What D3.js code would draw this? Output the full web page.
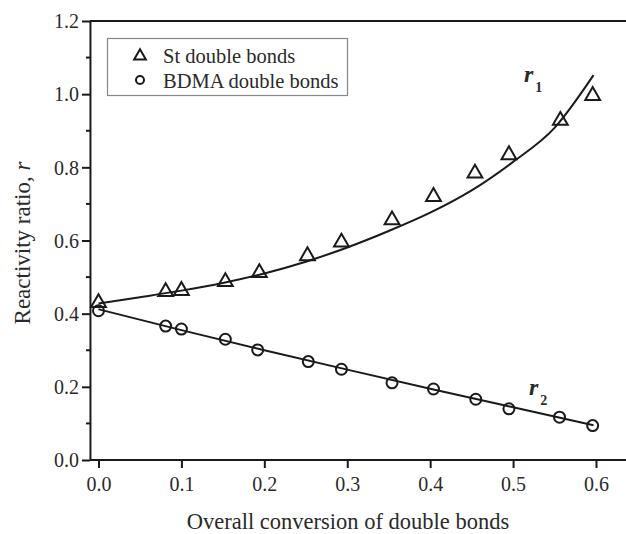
<!DOCTYPE html>
<html>
<head>
<meta charset="utf-8">
<script src="https://cdn.jsdelivr.net/npm/d3@7/dist/d3.min.js"></script>
<style>
  html, body { margin: 0; padding: 0; background: #fff; }
  svg { display: block; }
  text { font-family: "Liberation Serif", "Times New Roman", serif; fill: #2a2a2a; }
</style>
</head>
<body>
<svg id="chart" width="626" height="534"></svg>
<script>
// Measured reactivity ratios vs. overall conversion
const stConversion = [0.0, 0.081, 0.100, 0.153, 0.194, 0.252, 0.293, 0.354, 0.404, 0.454, 0.495, 0.557, 0.596];
const stRatio      = [0.430, 0.460, 0.463, 0.487, 0.512, 0.558, 0.595, 0.656, 0.720, 0.784, 0.834, 0.928, 0.996];

const bdmaConversion = [0.0, 0.081, 0.100, 0.153, 0.192, 0.253, 0.293, 0.354, 0.404, 0.455, 0.495, 0.556, 0.596];
const bdmaRatio      = [0.408, 0.366, 0.358, 0.330, 0.301, 0.269, 0.248, 0.211, 0.194, 0.166, 0.140, 0.117, 0.094];

// Model curves r1 and r2
const r1CurveX = [0.0, 0.05, 0.10, 0.15, 0.20, 0.25, 0.30, 0.35, 0.40, 0.45, 0.50, 0.55, 0.597];
const r1CurveY = [0.428, 0.445, 0.463, 0.484, 0.510, 0.542, 0.581, 0.626, 0.676, 0.737, 0.815, 0.908, 1.052];

const r2CurveX = [0.0, 0.10, 0.20, 0.30, 0.40, 0.50, 0.597];
const r2CurveY = [0.412, 0.355, 0.300, 0.247, 0.195, 0.144, 0.095];

const xTicks = [0.0, 0.1, 0.2, 0.3, 0.4, 0.5, 0.6];
const yTicks = [0.0, 0.2, 0.4, 0.6, 0.8, 1.0, 1.2];
const yMinorTicks = [0.1, 0.3, 0.5, 0.7, 0.9, 1.1];

const legendLabels = ["St double bonds", "BDMA double bonds"];

const ink = "#1a1a1a";
const svg = d3.select("#chart");

const x = d3.scaleLinear().domain([0, 0.6]).range([98.5, 596]);
const y = d3.scaleLinear().domain([0, 1.2]).range([460, 21]);

const frameLeft = x(-0.0103);
const frameRight = 630;

// Top edge of the plot frame
svg.append("line").attr("x1", frameLeft).attr("x2", frameRight)
  .attr("y1", y(1.2)).attr("y2", y(1.2)).attr("stroke", ink).attr("stroke-width", 2);

// Y axis
const yAxis = svg.append("g").attr("transform", `translate(${frameLeft},0)`)
  .call(d3.axisLeft(y).tickValues(yTicks).tickSize(8).tickSizeOuter(0)
    .tickFormat(d3.format(".1f")));
yAxis.select(".domain").attr("stroke", ink).attr("stroke-width", 2);
yAxis.selectAll(".tick line").attr("stroke", ink).attr("stroke-width", 2);
yAxis.selectAll(".tick text").attr("x", -11).attr("dy", "0.34em")
  .style("font-size", "20px").style("font-family", "Liberation Serif, serif").attr("fill", "#3a3a3a");
yAxis.selectAll(".minor").data(yMinorTicks).enter().append("line")
  .attr("class", "minor").attr("x1", -4).attr("x2", 0)
  .attr("y1", d => y(d)).attr("y2", d => y(d)).attr("stroke", ink).attr("stroke-width", 2);

// X axis
const xAxis = svg.append("g").attr("transform", `translate(0,${y(0)})`)
  .call(d3.axisBottom(x).tickValues(xTicks).tickSize(8).tickSizeOuter(0)
    .tickFormat(d3.format(".1f")));
xAxis.select(".domain").remove();
xAxis.append("line").attr("x1", frameLeft).attr("x2", frameRight)
  .attr("stroke", ink).attr("stroke-width", 2);
xAxis.selectAll(".tick line").attr("stroke", ink).attr("stroke-width", 2);
xAxis.selectAll(".tick text").attr("y", 17).attr("dy", "0.71em")
  .style("font-size", "20px").style("font-family", "Liberation Serif, serif").attr("fill", "#3a3a3a");

// Axis titles
svg.append("text").attr("x", 348).attr("y", 529).attr("text-anchor", "middle")
  .style("font-size", "22.5px").text("Overall conversion of double bonds");

const yTitle = svg.append("text")
  .attr("transform", "translate(30,243) rotate(-90)")
  .attr("text-anchor", "middle").style("font-size", "23px");
yTitle.append("tspan").text("Reactivity ratio, ");
yTitle.append("tspan").style("font-style", "italic").text("r");

// Curves
const line = d3.line().x(d => x(d[0])).y(d => y(d[1])).curve(d3.curveMonotoneX);
svg.append("path").datum(d3.zip(r1CurveX, r1CurveY)).attr("d", line)
  .attr("fill", "none").attr("stroke", ink).attr("stroke-width", 2);
svg.append("path").datum(d3.zip(r2CurveX, r2CurveY)).attr("d", line)
  .attr("fill", "none").attr("stroke", ink).attr("stroke-width", 2);

// Markers
const tri = d3.symbol().type(d3.symbolTriangle).size(95);
svg.append("g").selectAll("path").data(d3.zip(stConversion, stRatio)).enter()
  .append("path").attr("d", tri)
  .attr("transform", d => `translate(${x(d[0])},${y(d[1])})`)
  .attr("fill", "none").attr("stroke", ink).attr("stroke-width", 2);

svg.append("g").selectAll("circle").data(d3.zip(bdmaConversion, bdmaRatio)).enter()
  .append("circle").attr("cx", d => x(d[0])).attr("cy", d => y(d[1])).attr("r", 5.5)
  .attr("fill", "none").attr("stroke", ink).attr("stroke-width", 2);

// Curve labels
function curveLabel(px, py, sub) {
  const t = svg.append("text").attr("x", px).attr("y", py)
    .style("font-size", "24px").style("font-style", "italic").style("font-weight", "bold")
    .attr("fill", ink);
  t.append("tspan").text("r");
  t.append("tspan").attr("dy", 10).attr("dx", 2).style("font-size", "14px")
    .style("font-style", "normal").style("font-weight", "bold").text(sub);
}
curveLabel(524, 82, "1");
curveLabel(529, 395, "2");

// Legend
const lg = svg.append("g");
lg.append("rect").attr("x", 107.5).attr("y", 38.5).attr("width", 240).attr("height", 57)
  .attr("fill", "#fff").attr("stroke", "#888").attr("stroke-width", 1.2);
lg.append("path").attr("d", d3.symbol().type(d3.symbolTriangle).size(60))
  .attr("transform", "translate(140,56)")
  .attr("fill", "none").attr("stroke", ink).attr("stroke-width", 2);
lg.append("circle").attr("cx", 140).attr("cy", 80).attr("r", 4)
  .attr("fill", "none").attr("stroke", ink).attr("stroke-width", 2);
lg.selectAll("text").data(legendLabels).enter().append("text")
  .attr("x", 163).attr("y", (d, i) => 63 + i * 25)
  .style("font-size", "20.5px").text(d => d);
</script>
</body>
</html>
